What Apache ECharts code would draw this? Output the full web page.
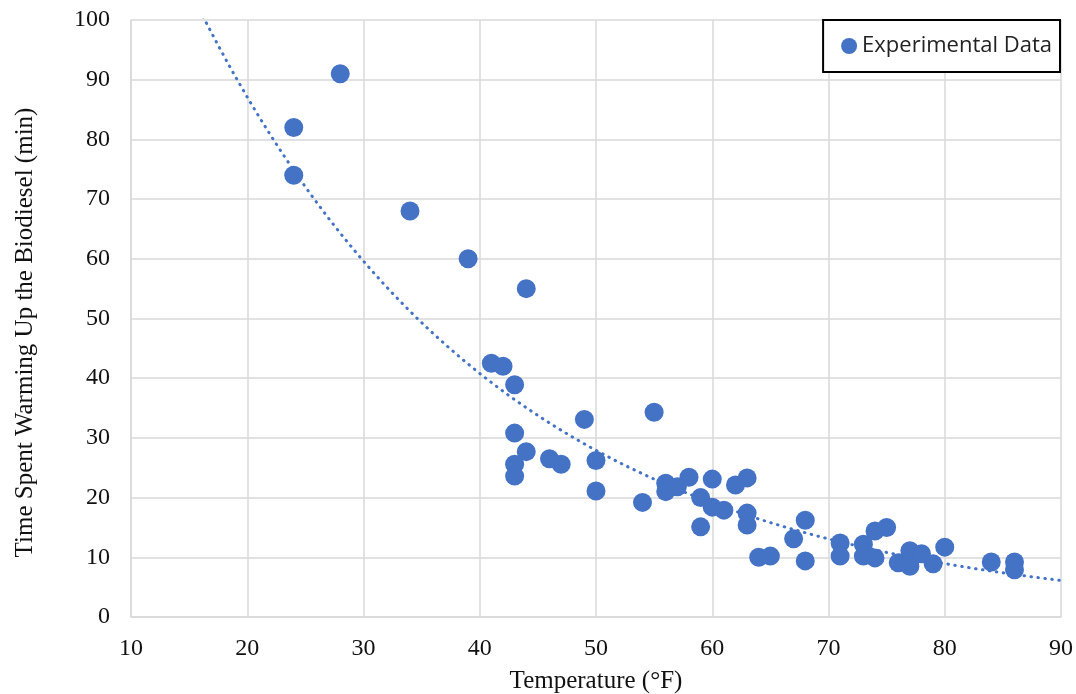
<!DOCTYPE html>
<html>
<head>
<meta charset="utf-8">
<title>Biodiesel warm-up time vs temperature</title>
<script src="https://cdn.jsdelivr.net/npm/echarts@6/dist/echarts.min.js"></script>
<style>
  html, body { margin: 0; padding: 0; background: #ffffff; }
  #chart { width: 1076px; height: 694px; }
</style>
</head>
<body>
<div id="chart"></div>
<script>
// Measured ambient temperature (°F) and warm-up time (min) for each run
const tempF = [
  24, 24, 28, 34, 39, 44, 41, 42, 43, 43, 43, 43, 44, 46, 47, 49, 50, 50,
  55, 54, 56, 56, 57, 58, 60, 59, 59, 60, 61, 62, 63, 63, 63, 64, 65, 67,
  68, 68, 71, 71, 73, 73, 74, 74, 75, 76, 77, 77, 78, 79, 80, 84, 86, 86
];
const warmupMin = [
  82, 74, 91, 68, 60, 55, 42.5, 42, 38.9, 30.8, 25.6, 23.6, 27.7, 26.5, 25.6, 33.1, 26.2, 21.1,
  34.3, 19.2, 22.4, 21.0, 21.8, 23.4, 23.1, 20.0, 15.1, 18.4, 17.9, 22.1, 23.3, 17.4, 15.4, 10.0, 10.2, 13.1,
  16.2, 9.4, 12.4, 10.2, 12.2, 10.2, 9.9, 14.4, 15.0, 9.1, 11.1, 8.5, 10.6, 8.9, 11.7, 9.2, 9.2, 7.9
];

// Axis ranges and tick labels
const xTicks = [10, 20, 30, 40, 50, 60, 70, 80, 90];
const yTicks = [0, 10, 20, 30, 40, 50, 60, 70, 80, 90, 100];

const points = tempF.map((t, i) => [t, warmupMin[i]]);

// Exponential least-squares trendline (fit ln y = ln a + b x)
function expFit(xs, ys) {
  const n = xs.length;
  let sx = 0, sy = 0, sxx = 0, sxy = 0;
  for (let i = 0; i < n; i++) {
    const ly = Math.log(ys[i]);
    sx += xs[i]; sy += ly; sxx += xs[i] * xs[i]; sxy += xs[i] * ly;
  }
  const b = (n * sxy - sx * sy) / (n * sxx - sx * sx);
  const lnA = (sy - b * sx) / n;
  return { a: Math.exp(lnA), b: b };
}
const fit = expFit(tempF, warmupMin);
const trend = [];
for (let x = xTicks[0]; x <= xTicks[xTicks.length - 1] + 1e-9; x += 0.5) {
  trend.push([x, fit.a * Math.exp(fit.b * x)]);
}

const blue = '#4472C4';
const gridGray = '#d9d9d9';
const serif = '"Liberation Serif", "Times New Roman", serif';

const chart = echarts.init(document.getElementById('chart'), null, { renderer: 'canvas' });
chart.setOption({
  backgroundColor: '#ffffff',
  animation: false,
  grid: { left: 131, right: 15, top: 20, bottom: 77, containLabel: false, outerBoundsMode: 'none' },
  legend: {
    data: ['Experimental Data'],
    right: 16,
    top: 20,
    orient: 'horizontal',
    icon: 'circle',
    itemWidth: 16,
    itemHeight: 16,
    borderColor: '#000000',
    borderWidth: 2,
    padding: [13, 8, 13, 18],
    backgroundColor: '#ffffff',
    textStyle: { fontFamily: '"Open Sans", sans-serif', fontSize: 22, color: '#222', lineHeight: 26 }
  },
  xAxis: {
    type: 'value',
    min: xTicks[0],
    max: xTicks[xTicks.length - 1],
    interval: 10,
    name: 'Temperature (°F)',
    nameLocation: 'middle',
    nameGap: 52,
    nameTextStyle: { fontFamily: serif, fontSize: 25, color: '#111', verticalAlign: 'top' },
    axisLine: { show: true, lineStyle: { color: gridGray, width: 1.5 } },
    axisTick: { show: false },
    axisLabel: { fontFamily: serif, fontSize: 24, color: '#111', margin: 20 },
    splitLine: { show: true, lineStyle: { color: gridGray, width: 1.5 } }
  },
  yAxis: {
    type: 'value',
    min: yTicks[0],
    max: yTicks[yTicks.length - 1],
    interval: 10,
    name: 'Time Spent Warming Up the Biodiesel (min)',
    nameLocation: 'middle',
    nameGap: 93,
    nameTextStyle: { fontFamily: serif, fontSize: 25, color: '#111', padding: [0, 28, 0, 0] },
    axisLine: { show: true, lineStyle: { color: gridGray, width: 1.5 } },
    axisTick: { show: false },
    axisLabel: { fontFamily: serif, fontSize: 24, color: '#111', margin: 21 },
    splitLine: { show: true, lineStyle: { color: gridGray, width: 1.5 } }
  },
  series: [
    {
      name: 'Trend',
      type: 'line',
      data: trend,
      showSymbol: false,
      symbol: 'none',
      smooth: false,
      clip: true,
      silent: true,
      z: 3,
      lineStyle: { color: blue, width: 3, type: [0.5, 6.5], cap: 'round' }
    },
    {
      name: 'Experimental Data',
      type: 'scatter',
      data: points,
      symbol: 'circle',
      symbolSize: 19,
      z: 4,
      itemStyle: { color: blue, opacity: 1 }
    }
  ]
});
</script>
</body>
</html>
